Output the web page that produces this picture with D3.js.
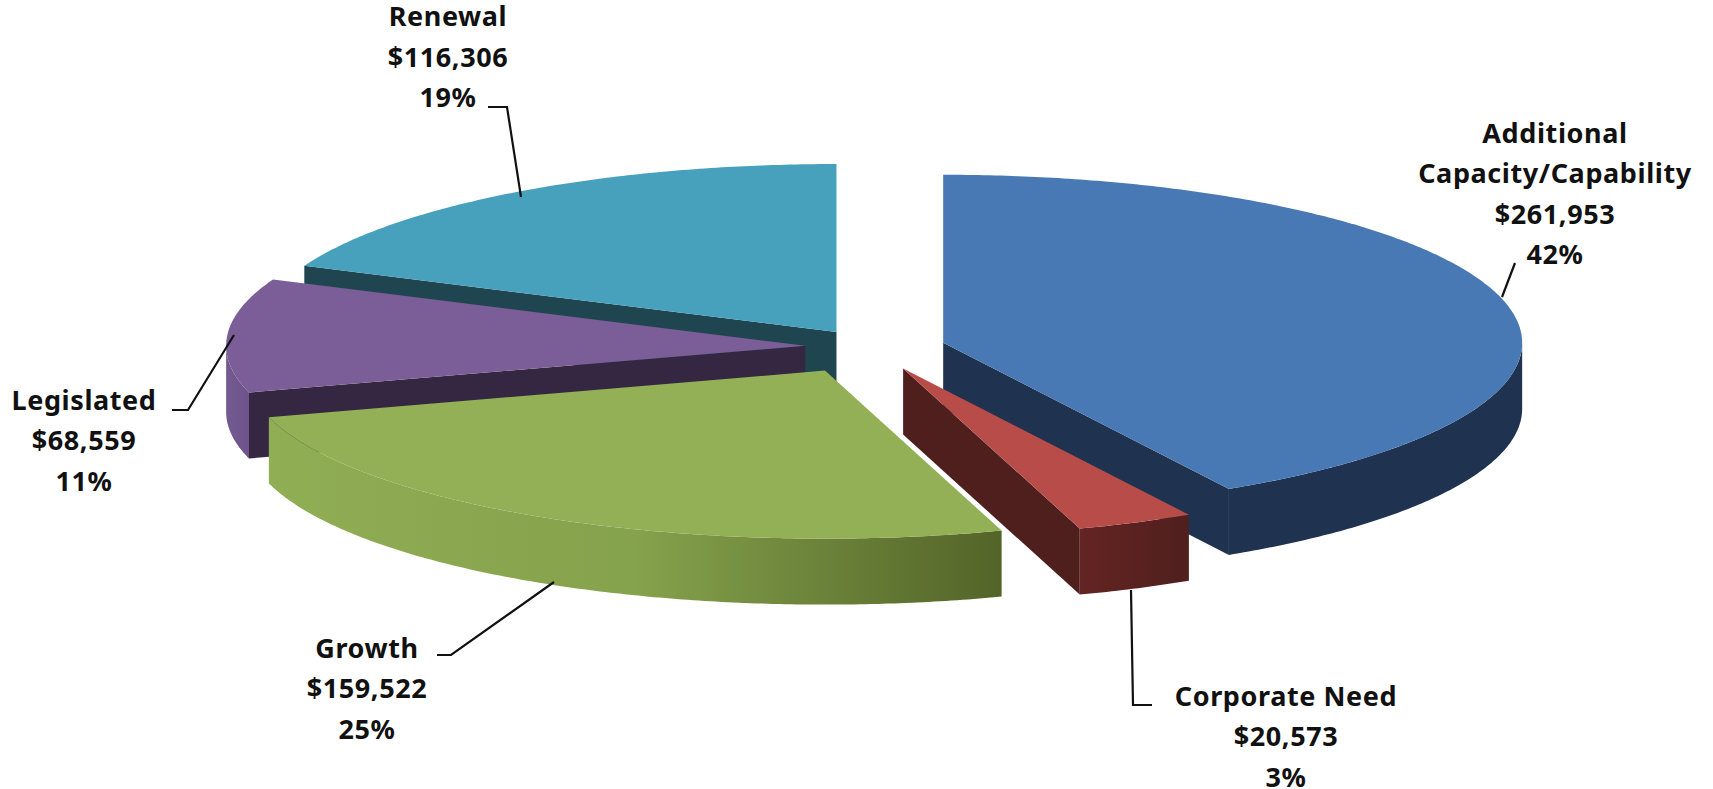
<!DOCTYPE html>
<html>
<head>
<meta charset="utf-8">
<script src="https://cdnjs.cloudflare.com/ajax/libs/d3/7.8.5/d3.min.js"></script>
<style>
html,body{margin:0;padding:0;background:#fff;overflow:hidden}
text{font-family:"Noto Sans",sans-serif;font-weight:700;fill:#111}
</style>
</head>
<body>
<svg id="chart" width="1713" height="789"></svg>
<script>
// ---- data ----
const categories = ["Additional Capacity/Capability", "Corporate Need", "Growth", "Legislated", "Renewal"];
const amounts = [261953, 20573, 159522, 68559, 116306];
const percentLabels = ["42%", "3%", "25%", "11%", "19%"];

// ---- styles ----
const topColors  = ["#4979b4", "#b84c48", "#93b056", "#7b5e98", "#47a1bc"];
const faceColors = ["#1f3350", "#4f1f1d", "#536428", "#352742", "#1f4550"];
const rimStops = [
  ["#1f3350", "#1f3350"],
  ["#632422", "#4f201e"],
  ["#90ae54", "#85a24c", "#536428"],
  ["#735a90", "#6d538a"],
  ["#1f4550", "#1f4550"]
];

// ---- layout ----
const W = 1713, H = 789, cx = 875, cy = 349, rx = 579, ry = 168, depth = 66;
const explode = [70.5, 70, 100, 70, 70];
const nudge = [[0,-1],[0,1],[-3,-4],[0,-2],[0,0]];
const drawOrder = [4, 3, 0, 1, 2];
const labelLayout = [
  {x:1555, y:[132,172.5,213,253], lines:["Additional","Capacity/Capability",null,null], tw:[168,null,null,null], leader:[[1515,263],[1502,297]]},
  {x:1286, y:[695,735,776], lines:["Corporate Need",null,null], leader:[[1131,590],[1133,705],[1152,705]]},
  {x:367,  y:[647,687,728], lines:["Growth",null,null], leader:[[554,582],[451,655],[437,655]]},
  {x:84,   y:[399,439,480], lines:["Legislated",null,null], leader:[[234,335],[188,410],[172,410]]},
  {x:448,  y:[15,56,96],    lines:["Renewal",null,null], leader:[[521,197],[507,107],[488,107]]}
];

const svg = d3.select("#chart");
const defs = svg.append("defs");
const fmt = d3.format("$,");
const pie = d3.pie().sort(null).value(d => d);
const arcs = pie(amounts);
const line = d3.line();

arcs.forEach((a, i) => {
  const mid = (a.startAngle + a.endAngle) / 2;
  a.ox = cx + explode[i] * Math.sin(mid) + nudge[i][0];
  a.oy = cy - explode[i] * (ry / rx) * Math.cos(mid) + nudge[i][1];
});

const pt = (a, t, dy = 0) => [a.ox + rx * Math.sin(t), a.oy - ry * Math.cos(t) + dy];
const samples = (t0, t1) => {
  const n = Math.max(2, Math.ceil((t1 - t0) / 0.01));
  return d3.range(n + 1).map(k => t0 + (t1 - t0) * k / n);
};

const g = svg.append("g");
drawOrder.forEach(i => {
  const a = arcs[i];
  const sl = g.append("g").attr("class", "slice").datum(a);
  const apex = [a.ox, a.oy];

  // cut faces that turn towards the viewer
  const faceAngles = i === 0 ? [a.endAngle] : i === 1 ? [a.endAngle] : i === 3 ? [a.startAngle] : i === 4 ? [a.startAngle] : [];
  faceAngles.forEach(t => {
    const p = pt(a, t);
    sl.append("path")
      .attr("d", line([apex, p, [p[0], p[1] + depth], [apex[0], apex[1] + depth]]) + "Z")
      .attr("fill", faceColors[i]);
  });

  // outer rim, only the front half of the ellipse
  const t0 = Math.max(a.startAngle, Math.PI / 2), t1 = Math.min(a.endAngle, 3 * Math.PI / 2);
  if (t1 > t0) {
    const xs = d3.extent([...samples(t0, t1).map(t => pt(a, t)[0])]);
    const id = "rim" + i;
    const grad = defs.append("linearGradient").attr("id", id)
      .attr("gradientUnits", "userSpaceOnUse")
      .attr("x1", xs[0]).attr("x2", xs[1]).attr("y1", 0).attr("y2", 0);
    rimStops[i].forEach((c, k, arr) => grad.append("stop").attr("offset", k / (arr.length - 1)).attr("stop-color", c));
    const ts = samples(t0, t1);
    sl.append("path")
      .attr("d", line([...ts.map(t => pt(a, t)), ...ts.slice().reverse().map(t => pt(a, t, depth))]) + "Z")
      .attr("fill", `url(#${id})`);
  }

  // top
  sl.append("path")
    .attr("d", line([apex, ...samples(a.startAngle, a.endAngle).map(t => pt(a, t))]) + "Z")
    .attr("fill", topColors[i]);
});

// labels & leader lines
const lab = svg.append("g");
categories.forEach((name, i) => {
  const L = labelLayout[i];
  lab.append("path")
    .attr("d", line(L.leader))
    .attr("fill", "none").attr("stroke", "#111").attr("stroke-width", 2.2);
  const n = L.lines.length;
  const content = L.lines.map((s, k) => {
    if (s) return s;
    return k === n - 1 ? percentLabels[i] : fmt(amounts[i]);
  });
  content.forEach((s, k) => {
    lab.append("text")
      .attr("x", L.x).attr("y", L.y[k])
      .attr("text-anchor", "middle").attr("dominant-baseline", "central")
      .attr("font-size", 27)
      .attr("letter-spacing", 0.6)
      .text(s);
  });
});
</script>
</body>
</html>
